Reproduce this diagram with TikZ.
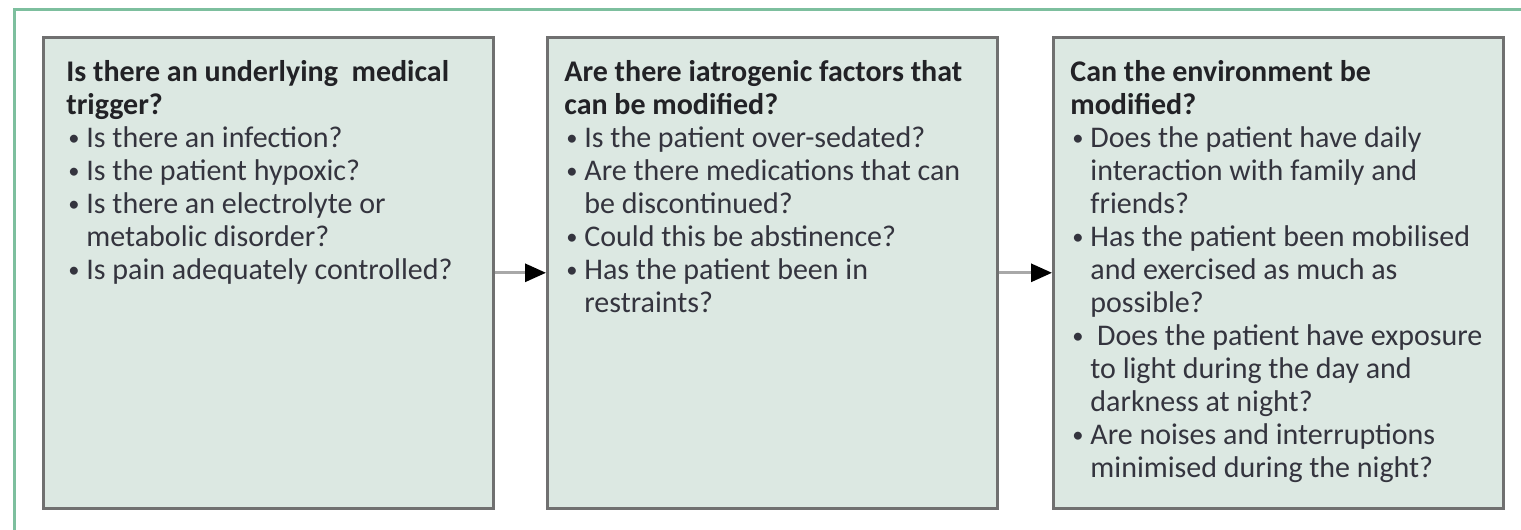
\documentclass[tikz,border=0pt]{standalone}
\usepackage{fontspec}
\setmainfont{Carlito}
\usetikzlibrary{arrows.meta,shadows}
\definecolor{boxfill}{HTML}{DCE8E2}
\definecolor{boxline}{HTML}{707070}
\definecolor{framegreen}{HTML}{7DBF9E}
\definecolor{txt}{HTML}{34343E}
\definecolor{head}{HTML}{222226}
\definecolor{arrline}{HTML}{A8A8A8}
\newcommand{\bl}[1]{\makebox[10pt][l]{\hspace*{1pt}\raisebox{0.12ex}{\scalebox{0.75}{\textbullet}}}#1}
\newcommand{\cl}[1]{\hspace*{10pt}#1}
\newcommand{\hd}[1]{\textcolor{head}{\textbf{#1}}}
\begin{document}
\begin{tikzpicture}[x=0.5pt,y=-0.5pt,
  box/.style={draw=boxline,line width=1.3pt,fill=boxfill,anchor=north west,
    minimum width=225pt,minimum height=235.5pt,inner sep=0pt,
    drop shadow={shadow xshift=0.8pt,shadow yshift=-0.8pt,opacity=0.35}},
  body/.style={anchor=north west,inner sep=0pt,align=left,text=txt,
    font=\fontsize{15}{16.5}\selectfont},
  flow/.style={draw=arrline,line width=1.5pt,
    -{Triangle[length=10.5pt,width=9pt,color=black]}}]
\clip (0,0) rectangle (1521,530);
\fill[white] (0,0) rectangle (1521,530);
\draw[framegreen,line width=1.5pt] (14,9) rectangle (1560,560);
\node[box] (b1) at (42,36) {};
\node[box] (b2) at (546,36) {};
\node[box] (b3) at (1052,36) {};
\node[body] (t1) at (66,60) {\hd{Is there an underlying\ \ medical}\\
\hd{trigger?}\\
\bl{Is there an infection?}\\
\bl{Is the patient hypoxic?}\\
\bl{Is there an electrolyte or}\\
\cl{metabolic disorder?}\\
\bl{Is pain adequately controlled?}};
\node[body] (t2) at (564,60) {\hd{Are there iatrogenic factors that}\\
\hd{can be modified?}\\
\bl{Is the patient over-sedated?}\\
\bl{Are there medications that can}\\
\cl{be discontinued?}\\
\bl{Could this be abstinence?}\\
\bl{Has the patient been in}\\
\cl{restraints?}};
\node[body] (t3) at (1070,60) {\hd{Can the environment be}\\
\hd{modified?}\\
\bl{Does the patient have daily}\\
\cl{interaction with family and}\\
\cl{friends?}\\
\bl{Has the patient been mobilised}\\
\cl{and exercised as much as}\\
\cl{possible?}\\
\bl{\ Does the patient have exposure}\\
\cl{to light during the day and}\\
\cl{darkness at night?}\\
\bl{Are noises and interruptions}\\
\cl{minimised during the night?}};
\draw[flow] (b1.east) -- (b2.west);
\draw[flow] (b2.east) -- (b3.west);
\end{tikzpicture}
\end{document}
